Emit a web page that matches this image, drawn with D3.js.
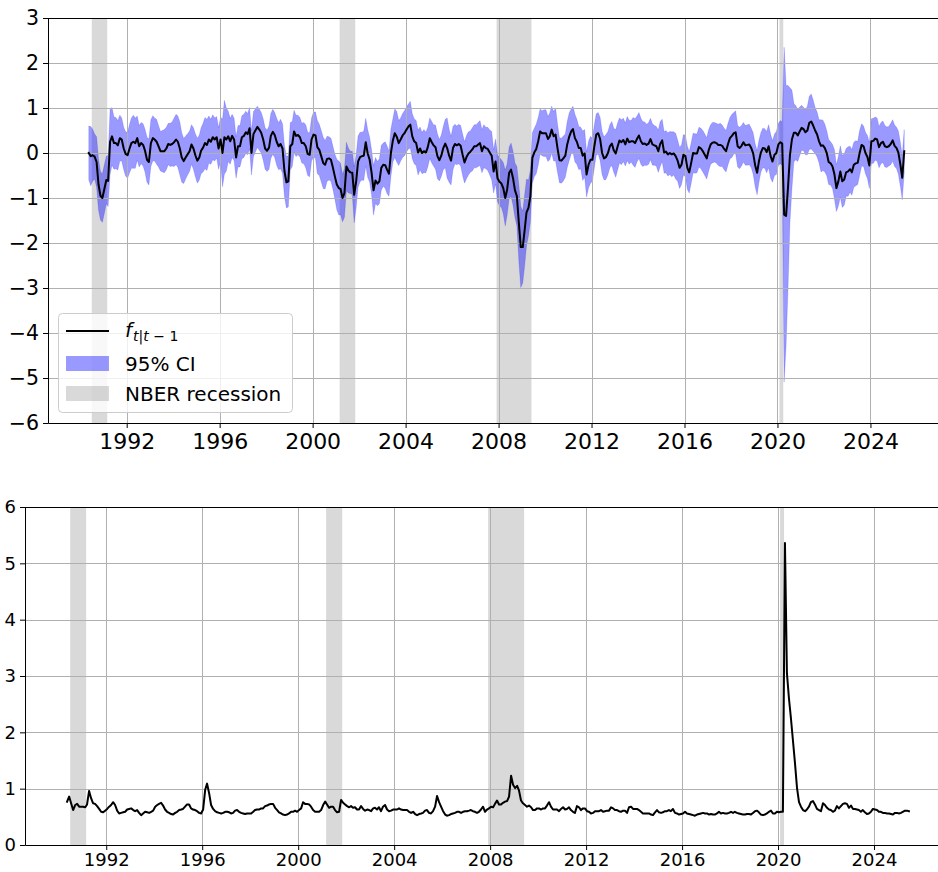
<!DOCTYPE html>
<html>
<head>
<meta charset="utf-8">
<script src="https://cdn.jsdelivr.net/npm/d3@7"></script>
<style>
  body { margin: 0; background: #ffffff; }
  svg { display: block; }
  text { font-family: "DejaVu Sans", sans-serif; }
</style>
</head>
<body>
<svg id="chart" width="938" height="872"></svg>
<script>
// ---------------- data ----------------
// monthly observations, first one May 1990 (plotted mid-month)
const firstObs = [1990, 4, 15];

// filtered factor f_{t|t-1}
const factorMean = [
 0.0,-0.07,-0.05,-0.08,-0.2,-0.7,-0.95,-1.0,-0.8,-0.6,
 -0.62,0.25,0.37,0.22,0.22,0.17,0.33,0.3,0.1,-0.02,
 -0.05,0.1,0.22,0.25,0.22,0.33,0.15,0.22,0.18,0.05,
 -0.15,-0.2,0.22,0.33,0.3,0.25,0.15,0.04,0.04,0.04,
 0.1,0.2,0.18,0.2,0.24,0.3,0.25,0.1,-0.1,-0.18,
 -0.1,-0.03,0.04,0.19,0.1,-0.05,-0.17,-0.1,0.05,0.12,
 0.22,0.18,0.3,0.25,0.35,0.3,0.35,0.1,0.3,0.0,
 0.35,0.3,0.37,0.26,0.38,0.3,-0.1,0.15,0.15,0.35,
 0.38,0.46,0.42,0.55,0.0,0.42,0.5,0.58,0.52,0.45,
 0.3,0.1,0.05,0.12,0.38,0.47,0.4,0.25,0.15,0.2,
 0.1,-0.4,-0.65,-0.63,0.15,0.2,0.48,0.38,0.4,0.35,
 0.22,0.22,0.15,-0.02,-0.04,0.3,0.41,0.39,0.13,0.07,
 -0.07,-0.22,-0.26,-0.13,-0.12,-0.15,-0.33,-0.52,-0.7,-0.78,
 -0.8,-1.0,-0.89,-0.3,-0.39,-0.43,-0.44,-0.93,-0.63,-0.19,
 -0.09,-0.07,-0.06,0.24,-0.01,-0.15,-0.43,-0.83,-0.61,-0.68,
 -0.63,-0.33,-0.26,-0.27,-0.37,-0.46,0.0,0.28,0.44,0.36,
 0.22,0.3,0.39,0.44,0.52,0.59,0.63,0.37,0.26,0.22,
 0.01,0.1,0.0,0.04,0.01,0.13,0.33,0.24,0.17,0.13,
 -0.07,-0.16,-0.06,0.11,0.21,0.11,-0.06,-0.17,0.11,0.2,
 0.17,0.2,0.16,-0.04,-0.21,-0.09,-0.01,0.03,0.08,0.15,
 0.15,0.19,0.22,0.04,0.15,0.11,0.09,0.01,-0.06,-0.41,
 -0.19,-0.56,-0.64,-0.68,-0.78,-1.0,-0.81,-0.44,-0.37,-0.56,
 -0.83,-0.96,-1.56,-2.09,-2.09,-1.7,-1.32,-1.22,-0.96,-0.11,
 0.01,0.09,0.26,0.48,0.44,0.44,0.44,0.31,0.37,0.52,
 0.37,0.41,0.11,-0.16,-0.17,-0.12,-0.06,0.19,0.36,0.48,
 0.53,0.33,0.25,0.11,0.11,-0.06,-0.01,-0.48,-0.26,-0.15,
 -0.15,0.16,0.41,0.44,0.31,0.0,-0.12,-0.09,0.0,0.15,
 0.21,0.06,-0.01,0.15,0.28,0.24,0.29,0.19,0.32,0.24,
 0.26,0.26,0.22,0.31,0.39,0.26,0.2,0.21,0.18,0.21,
 0.31,0.19,0.17,0.15,0.04,0.2,0.28,0.01,0.03,-0.03,
 0.0,-0.03,-0.01,-0.07,-0.17,-0.33,-0.26,-0.04,-0.07,-0.33,
 -0.43,-0.22,0.0,-0.01,-0.01,0.13,0.1,0.04,-0.04,-0.12,
 0.06,0.19,0.23,0.24,0.22,0.18,0.18,0.16,0.09,0.04,
 0.2,0.33,0.38,0.44,0.46,0.15,0.11,0.16,0.24,0.17,
 0.18,0.19,0.11,-0.01,-0.27,-0.44,-0.19,0.01,0.11,0.1,
 0.02,0.15,-0.07,-0.19,-0.04,0.0,0.19,0.24,0.21,
 -1.37,-1.4,-0.75,-0.05,0.3,0.45,0.45,
 0.39,0.48,0.56,0.53,0.46,0.5,0.67,0.7,0.61,0.5,
 0.41,0.26,0.16,0.17,0.11,-0.01,-0.2,-0.23,-0.3,-0.48,
 -0.78,-0.63,-0.41,-0.63,-0.59,-0.43,-0.41,-0.36,-0.43,-0.26,
 -0.23,-0.22,0.0,0.18,0.15,0.0,-0.09,-0.28,0.26,0.27,
 0.32,0.3,0.13,0.22,0.25,0.15,0.13,0.15,0.2,0.28,
 0.16,0.11,0.01,-0.25,-0.55,0.04
];

// half width of the 95% confidence band
const ciHalfWidth = [
 0.60,0.66,0.58,0.50,0.56,0.57,0.54,0.54,0.54,0.53,
 0.57,0.73,0.64,0.58,0.57,0.55,0.51,0.48,0.47,0.49,
 0.51,0.54,0.56,0.59,0.56,0.49,0.46,0.46,0.47,0.48,
 0.50,0.51,0.52,0.50,0.48,0.50,0.46,0.44,0.46,0.48,
 0.47,0.46,0.48,0.49,0.54,0.56,0.57,0.59,0.55,0.50,
 0.48,0.46,0.45,0.44,0.46,0.48,0.50,0.50,0.51,0.54,
 0.57,0.57,0.52,0.50,0.50,0.48,0.46,0.46,0.50,0.75,
 0.82,0.70,0.56,0.51,0.48,0.47,0.46,0.46,0.46,0.48,
 0.48,0.47,0.46,0.46,0.49,0.50,0.48,0.46,0.46,0.45,
 0.46,0.46,0.46,0.48,0.50,0.50,0.50,0.52,0.52,0.55,
 0.55,0.57,0.57,0.57,0.53,0.50,0.47,0.46,0.44,0.44,
 0.44,0.46,0.48,0.48,0.49,0.48,0.50,0.52,0.59,0.57,
 0.57,0.57,0.54,0.50,0.48,0.48,0.48,0.50,0.56,0.60,
 0.57,0.53,0.54,0.54,0.50,0.47,0.48,0.62,0.59,0.57,
 0.55,0.53,0.55,0.53,0.53,0.50,0.50,0.55,0.51,0.49,
 0.50,0.50,0.48,0.52,0.53,0.50,0.53,0.48,0.54,0.56,
 0.50,0.48,0.49,0.50,0.50,0.50,0.52,0.50,0.50,0.50,
 0.50,0.48,0.46,0.48,0.45,0.44,0.45,0.46,0.46,0.49,
 0.50,0.46,0.46,0.48,0.54,0.67,0.59,0.54,0.48,0.44,
 0.43,0.44,0.45,0.46,0.46,0.48,0.48,0.46,0.48,0.48,
 0.48,0.49,0.50,0.48,0.48,0.46,0.48,0.50,0.54,0.48,
 0.50,0.52,0.54,0.53,0.57,0.62,0.57,0.57,0.59,0.60,
 0.61,0.66,0.85,0.90,0.80,0.79,0.74,0.62,0.58,0.56,
 0.54,0.55,0.53,0.50,0.50,0.52,0.52,0.50,0.52,0.52,
 0.55,0.59,0.54,0.50,0.50,0.50,0.48,0.51,0.53,0.50,
 0.51,0.53,0.50,0.48,0.46,0.55,0.53,0.50,0.52,0.52,
 0.48,0.48,0.46,0.46,0.48,0.48,0.48,0.50,0.48,0.48,
 0.49,0.49,0.53,0.52,0.50,0.50,0.48,0.48,0.49,0.49,
 0.46,0.53,0.54,0.51,0.51,0.51,0.50,0.48,0.46,0.46,
 0.46,0.46,0.44,0.44,0.47,0.50,0.47,0.46,0.47,0.48,
 0.48,0.50,0.48,0.51,0.46,0.46,0.44,0.45,0.46,0.48,
 0.46,0.45,0.44,0.44,0.43,0.44,0.45,0.46,0.46,0.46,
 0.46,0.44,0.45,0.44,0.44,0.46,0.48,0.46,0.46,0.46,
 0.46,0.46,0.48,0.46,0.48,0.46,0.46,0.45,0.44,0.44,
 0.45,0.45,0.44,0.46,0.48,0.49,0.47,0.44,0.44,0.44,
 0.46,0.48,0.49,0.46,0.46,0.48,0.47,0.48,0.48,
 3.72,2.9,2.25,1.5,1.1,0.65,0.6,
 0.58,0.54,0.50,0.48,0.50,0.54,0.59,0.61,0.57,0.51,
 0.50,0.48,0.58,0.56,0.53,0.50,0.50,0.48,0.49,0.55,
 0.52,0.55,0.57,0.58,0.57,0.53,0.55,0.51,0.51,0.50,
 0.50,0.48,0.50,0.47,0.45,0.46,0.48,0.51,0.50,0.50,
 0.48,0.48,0.46,0.46,0.46,0.46,0.45,0.44,0.46,0.46,
 0.46,0.46,0.48,0.49,0.49,0.48
];

// lower panel series
const lowerSeries = [
 0.77,0.86,0.74,0.62,0.71,0.73,0.68,0.68,0.68,0.67,
 0.72,0.96,0.83,0.74,0.73,0.69,0.64,0.59,0.58,0.61,
 0.64,0.68,0.71,0.76,0.71,0.61,0.56,0.57,0.58,0.59,
 0.63,0.64,0.65,0.62,0.6,0.62,0.57,0.53,0.56,0.59,
 0.58,0.57,0.59,0.61,0.68,0.71,0.73,0.75,0.7,0.63,
 0.59,0.57,0.55,0.54,0.57,0.59,0.62,0.63,0.64,0.68,
 0.72,0.72,0.65,0.63,0.62,0.6,0.57,0.56,0.63,0.98,
 1.09,0.92,0.71,0.64,0.6,0.58,0.57,0.56,0.57,0.59,
 0.59,0.58,0.56,0.57,0.61,0.62,0.59,0.57,0.56,0.55,
 0.56,0.56,0.56,0.59,0.62,0.63,0.63,0.65,0.65,0.69,
 0.7,0.72,0.73,0.73,0.66,0.62,0.58,0.56,0.54,0.53,
 0.54,0.56,0.59,0.59,0.61,0.59,0.62,0.65,0.76,0.73,
 0.73,0.72,0.68,0.62,0.59,0.59,0.59,0.62,0.71,0.77,
 0.72,0.66,0.68,0.68,0.62,0.58,0.59,0.8,0.75,0.72,
 0.69,0.67,0.69,0.66,0.67,0.63,0.63,0.69,0.64,0.61,
 0.63,0.62,0.6,0.65,0.66,0.63,0.67,0.6,0.68,0.71,
 0.63,0.6,0.61,0.63,0.63,0.63,0.65,0.63,0.62,0.62,
 0.62,0.59,0.57,0.59,0.55,0.53,0.55,0.56,0.57,0.61,
 0.62,0.57,0.56,0.6,0.68,0.87,0.76,0.68,0.6,0.54,
 0.52,0.53,0.55,0.56,0.57,0.59,0.59,0.57,0.59,0.6,
 0.6,0.61,0.62,0.6,0.59,0.57,0.59,0.63,0.68,0.59,
 0.63,0.65,0.68,0.67,0.73,0.79,0.72,0.72,0.75,0.77,
 0.78,0.86,1.23,1.07,1.01,1.05,0.97,0.79,0.74,0.71,
 0.68,0.7,0.67,0.62,0.62,0.65,0.65,0.63,0.65,0.65,
 0.7,0.76,0.68,0.63,0.63,0.63,0.6,0.64,0.67,0.63,
 0.64,0.67,0.62,0.59,0.57,0.69,0.67,0.62,0.65,0.65,
 0.6,0.59,0.56,0.57,0.6,0.6,0.6,0.62,0.59,0.6,
 0.61,0.61,0.67,0.65,0.62,0.62,0.6,0.59,0.61,0.61,
 0.57,0.67,0.68,0.64,0.64,0.64,0.62,0.59,0.56,0.56,
 0.56,0.56,0.54,0.53,0.58,0.62,0.58,0.57,0.58,0.6,
 0.6,0.62,0.6,0.64,0.57,0.56,0.54,0.55,0.56,0.59,
 0.56,0.55,0.54,0.53,0.52,0.54,0.55,0.56,0.57,0.56,
 0.56,0.54,0.55,0.54,0.54,0.56,0.59,0.56,0.57,0.56,
 0.56,0.57,0.59,0.57,0.59,0.57,0.56,0.55,0.54,0.54,
 0.55,0.55,0.54,0.57,0.6,0.61,0.58,0.54,0.53,0.54,
 0.56,0.59,0.61,0.56,0.56,0.59,0.58,0.59,0.59,
 5.36,3.05,2.6,2.25,1.85,1.45,1.02,0.76,
 0.68,0.62,0.6,0.63,0.68,0.76,0.78,0.72,0.64,0.62,
 0.6,0.74,0.71,0.66,0.63,0.62,0.59,0.61,0.69,0.65,
 0.69,0.73,0.74,0.73,0.66,0.7,0.64,0.64,0.63,0.62,
 0.59,0.62,0.58,0.55,0.56,0.59,0.64,0.63,0.62,0.59,
 0.59,0.57,0.57,0.56,0.56,0.55,0.54,0.57,0.57,0.56,
 0.57,0.59,0.61,0.61,0.6
];

// NBER recessions
const recessionStarts = ["1990-07-01", "2001-03-01", "2007-12-01", "2020-02-01"];
const recessionEnds   = ["1991-03-01", "2001-11-01", "2009-06-01", "2020-04-01"];

const tickYears = [1992, 1996, 2000, 2004, 2008, 2012, 2016, 2020, 2024];
const topYTicks = [-6, -5, -4, -3, -2, -1, 0, 1, 2, 3];
const bottomYTicks = [0, 1, 2, 3, 4, 5, 6];

// legend labels
const legendCI = "95% CI";
const legendRec = "NBER recession";

// ---------------- drawing ----------------
const svg = d3.select("#chart");
svg.append("rect").attr("width", 938).attr("height", 872).attr("fill", "#ffffff");

const startDate = new Date(firstObs[0], firstObs[1], firstObs[2]);
const dates = factorMean.map((_, i) => d3.timeMonth.offset(startDate, i));
const ext = d3.extent(dates);
const span = ext[1] - ext[0];
const xDomain = [new Date(+ext[0] - 0.05 * span), new Date(+ext[1] + 0.05 * span)];
const tickDates = tickYears.map(yr => new Date(yr, 0, 1));
const parse = d3.timeParse("%Y-%m-%d");
const recessions = recessionStarts.map((s, i) => [parse(s), parse(recessionEnds[i])]);

const GRID = "#b0b0b0";

function drawPanel(p) {
  const g = svg.append("g");
  const x = d3.scaleTime().domain(xDomain).range([p.left, p.right]);
  const y = d3.scaleLinear().domain(p.yDomain).range([p.bottom, p.top]);
  const clipId = "clip" + p.name;
  svg.append("clipPath").attr("id", clipId).append("rect")
    .attr("x", p.left).attr("y", p.top)
    .attr("width", p.right - p.left).attr("height", p.bottom - p.top);

  // recession shading
  g.append("g").selectAll("rect").data(recessions).join("rect")
    .attr("x", d => x(d[0])).attr("width", d => x(d[1]) - x(d[0]))
    .attr("y", p.top).attr("height", p.bottom - p.top)
    .attr("fill", "grey").attr("fill-opacity", 0.3);

  if (p.band) {
    const area = d3.area()
      .x((d, i) => x(dates[i]))
      .y0((d, i) => y(factorMean[i] - ciHalfWidth[i]))
      .y1((d, i) => y(factorMean[i] + ciHalfWidth[i]));
    g.append("path").datum(factorMean).attr("d", area)
      .attr("fill", "blue").attr("fill-opacity", 0.4)
      .attr("stroke", "blue").attr("stroke-opacity", 0.25).attr("stroke-width", 0.6)
      .attr("clip-path", `url(#${clipId})`);
  }

  // grid
  const grid = g.append("g").attr("stroke", GRID).attr("stroke-width", 1);
  grid.selectAll(".gx").data(tickDates).join("line")
    .attr("x1", d => Math.round(x(d)) + 0.5).attr("x2", d => Math.round(x(d)) + 0.5)
    .attr("y1", p.top).attr("y2", p.bottom);
  grid.selectAll(".gy").data(p.yTicks).join("line")
    .attr("x1", p.left).attr("x2", p.right)
    .attr("y1", d => Math.round(y(d)) + 0.5).attr("y2", d => Math.round(y(d)) + 0.5);

  // series line
  const line = d3.line().x((d, i) => x(dates[i])).y(d => y(d));
  g.append("path").datum(p.series).attr("d", line)
    .attr("fill", "none").attr("stroke", "black").attr("stroke-width", 2)
    .attr("stroke-linejoin", "round").attr("stroke-linecap", "square")
    .attr("clip-path", `url(#${clipId})`);

  // axes
  const xAxis = d3.axisBottom(x).tickValues(tickDates).tickFormat(d3.timeFormat("%Y"))
    .tickSizeInner(5).tickSizeOuter(0).tickPadding(p.xPad);
  const gx = g.append("g").attr("transform", `translate(0,${p.bottom})`).call(xAxis);
  gx.attr("font-size", p.xFont).attr("font-family", "DejaVu Sans");
  gx.selectAll("text").attr("fill", "#000");
  gx.select(".domain").attr("stroke", "#000");

  const yAxis = d3.axisLeft(y).tickValues(p.yTicks).tickFormat(d3.format("d"))
    .tickSizeInner(5).tickSizeOuter(0).tickPadding(p.yPad);
  const gy = g.append("g").attr("transform", `translate(${p.left},0)`).call(yAxis);
  gy.attr("font-size", p.yFont).attr("font-family", "DejaVu Sans");
  gy.selectAll("text").attr("fill", "#000");

  // top spine
  g.append("line").attr("x1", p.left).attr("x2", p.right)
    .attr("y1", p.top + 0.5).attr("y2", p.top + 0.5)
    .attr("stroke", "#000").attr("stroke-width", 1);
  return { x, y, g };
}

drawPanel({
  name: "Top", left: 48, right: 945, top: 18, bottom: 423,
  yDomain: [-6, 3], yTicks: topYTicks, series: factorMean, band: true,
  xFont: 22, yFont: 20.5, xPad: 5, yPad: 4
});

drawPanel({
  name: "Bottom", left: 25, right: 951, top: 507, bottom: 845,
  yDomain: [0, 6], yTicks: bottomYTicks, series: lowerSeries, band: false,
  xFont: 18, yFont: 18, xPad: 3, yPad: 4
});

// legend
const lg = svg.append("g");
lg.append("rect").attr("x", 58.5).attr("y", 313.5).attr("width", 234).attr("height", 99)
  .attr("rx", 4).attr("fill", "#ffffff").attr("fill-opacity", 0.8)
  .attr("stroke", "#cccccc").attr("stroke-width", 1);
lg.append("line").attr("x1", 66).attr("x2", 109).attr("y1", 331).attr("y2", 331)
  .attr("stroke", "black").attr("stroke-width", 2);
lg.append("rect").attr("x", 66).attr("y", 356).attr("width", 43).attr("height", 15)
  .attr("fill", "blue").attr("fill-opacity", 0.4);
lg.append("rect").attr("x", 66).attr("y", 386).attr("width", 43).attr("height", 15)
  .attr("fill", "grey").attr("fill-opacity", 0.3);

const ft = lg.append("text").attr("x", 125).attr("y", 337).attr("font-size", 20).attr("fill", "#000");
ft.append("tspan").attr("font-style", "italic").text("f");
ft.append("tspan").attr("font-size", 14).attr("dy", 4).attr("dx", 1).attr("font-style", "italic").text("t|t");
ft.append("tspan").attr("font-size", 14).text(" \u2212 1");

lg.append("text").attr("x", 125).attr("y", 371).attr("font-size", 20).attr("fill", "#000").text(legendCI);
lg.append("text").attr("x", 125).attr("y", 401).attr("font-size", 20).attr("fill", "#000").text(legendRec);
</script>
</body>
</html>
